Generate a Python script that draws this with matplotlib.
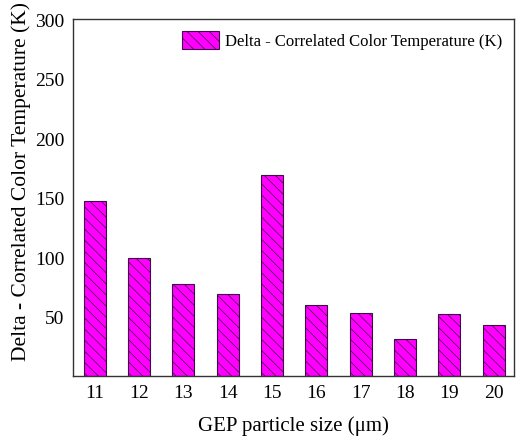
import matplotlib
matplotlib.use("Agg")
import matplotlib.pyplot as plt

sizes = [11, 12, 13, 14, 15, 16, 17, 18, 19, 20]
delta_cct = [147, 99, 77, 69, 169, 60, 53, 31, 52, 43]
yticks = [50, 100, 150, 200, 250, 300]

plt.rcParams['font.family'] = ['Liberation Serif', 'DejaVu Serif']
plt.rcParams['hatch.linewidth'] = 0.5
plt.rcParams['hatch.color'] = '#3a1040'

fig = plt.figure(figsize=(5.16, 4.39), dpi=100)
ax = fig.add_axes([0.1415, 0.1412, 0.854, 0.8132])

ax.bar(sizes, delta_cct, width=0.5, color='#ff00ff', edgecolor='#3a1040',
       linewidth=0.8, hatch='\\\\\\', label='Delta - Correlated Color Temperature (K)')

ax.set_xlim(10.51, 20.45)
ax.set_ylim(0, 300)
ax.set_xticks(sizes)
ax.set_yticks(yticks)
ax.tick_params(length=0, labelsize=14, pad=6)
for s in ax.spines.values():
    s.set_color('#333333')
    s.set_linewidth(1.0)

ax.set_xlabel('GEP particle size (\u03bcm)', fontsize=15, labelpad=10)
ax.set_ylabel('Delta - Correlated Color Temperature (K)', fontsize=15.5)
ax.yaxis.set_label_coords(-0.095, 0.549)
ax.legend(loc='upper right', frameon=False, fontsize=12, handlelength=2.2,
          handleheight=1.3, handletextpad=0.35, borderaxespad=0.3)

fig.savefig('out.png', dpi=100)
